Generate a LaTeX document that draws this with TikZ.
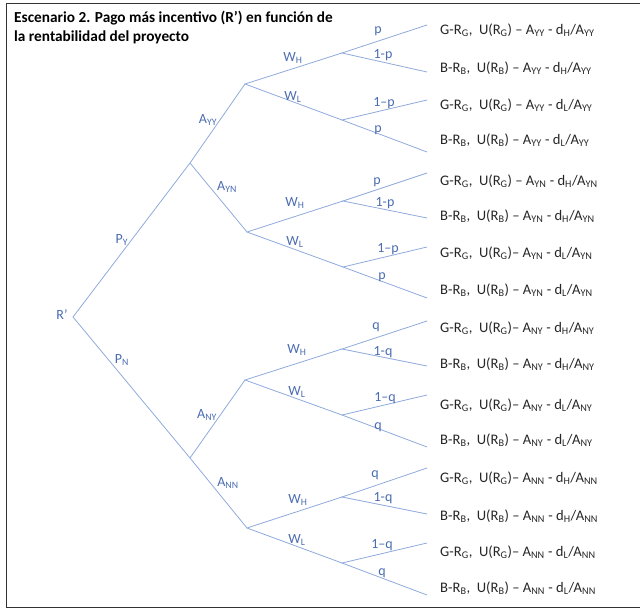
\documentclass[tikz,border=0pt]{standalone}
\usepackage{fontspec}
\setmainfont{Carlito}
\definecolor{lineblue}{HTML}{8FAADC}
\definecolor{labblue}{HTML}{4A6CB0}
\definecolor{leaftxt}{HTML}{262626}
\newcommand\sbs[1]{\textsubscript{#1}}
\begin{document}
\begin{tikzpicture}[x=1pt,y=-1pt,
  br/.style={draw=lineblue, line width=0.8pt},
  lab/.style={text=labblue, font=\fontsize{14}{16}\selectfont, inner sep=0pt},
  leaf/.style={anchor=west, text=leaftxt, font=\fontsize{14.6}{17}\selectfont, inner sep=0pt},
  frame/.style={draw=black!80, line width=1pt}]
\useasboundingbox (0,0) rectangle (640,610);
\draw[frame] (6.5,4) rectangle (645,607.5);
% title
\node[anchor=north west, align=left, inner sep=0pt, font=\bfseries\fontsize{15.3}{18.5}\selectfont]
  (title) at (14,11) {Escenario 2. Pago más incentivo (R’) en función de\\la rentabilidad del proyecto};
% tree nodes
\coordinate (r) at (73,317);
\coordinate (ay) at (190,163);
\coordinate (an) at (190,458);
\coordinate (ayy) at (245,84);
\coordinate (ayn) at (247,232);
\coordinate (any) at (245,380);
\coordinate (ann) at (247,528);
\coordinate (w1) at (342,53);
\coordinate (w2) at (342,120);
\coordinate (w3) at (343,201);
\coordinate (w4) at (343,267);
\coordinate (w5) at (342,349);
\coordinate (w6) at (342,415);
\coordinate (w7) at (342,497);
\coordinate (w8) at (342,563);
\foreach \n/\y in {1/25,2/72,3/100,4/152,5/173,6/218,7/247,8/298,9/321,10/366,11/395,12/447,13/468,14/514,15/543,16/595}
  \coordinate (e\n) at (427,\y);
% branches
\draw[br] (ay) -- (r) -- (an);
\draw[br] (ayy) -- (ay) -- (ayn);
\draw[br] (any) -- (an) -- (ann);
\draw[br] (w1) -- (ayy) -- (w2);
\draw[br] (w3) -- (ayn) -- (w4);
\draw[br] (w5) -- (any) -- (w6);
\draw[br] (w7) -- (ann) -- (w8);
\draw[br] (e1) -- (w1) -- (e2);
\draw[br] (e3) -- (w2) -- (e4);
\draw[br] (e5) -- (w3) -- (e6);
\draw[br] (e7) -- (w4) -- (e8);
\draw[br] (e9) -- (w5) -- (e10);
\draw[br] (e11) -- (w6) -- (e12);
\draw[br] (e13) -- (w7) -- (e14);
\draw[br] (e15) -- (w8) -- (e16);
% branch labels
\node[lab] (lr) at (62,315) {R’};
\node[lab] (lpy) at (122,240) {P\sbs{Y}};
\node[lab] (lpn) at (122,360) {P\sbs{N}};
\node[lab] (layy) at (208,120) {A\sbs{YY}};
\node[lab] (layn) at (227,187) {A\sbs{YN}};
\node[lab] (lany) at (207,415) {A\sbs{NY}};
\node[lab] (lann) at (228,483) {A\sbs{NN}};
\node[lab] (lw1) at (293,58) {W\sbs{H}};
\node[lab] (lw2) at (293,97) {W\sbs{L}};
\node[lab] (lw3) at (295,203) {W\sbs{H}};
\node[lab] (lw4) at (295,242) {W\sbs{L}};
\node[lab] (lw5) at (297,350) {W\sbs{H}};
\node[lab] (lw6) at (297,392) {W\sbs{L}};
\node[lab] (lw7) at (298,500) {W\sbs{H}};
\node[lab] (lw8) at (297,540) {W\sbs{L}};
\node[lab] (p1) at (378,31) {p};
\node[lab] (p2) at (383,55) {1-p};
\node[lab] (p3) at (384,103) {1–p};
\node[lab] (p4) at (378,130) {p};
\node[lab] (p5) at (377,182) {p};
\node[lab] (p6) at (385,203) {1-p};
\node[lab] (p7) at (388,249) {1–p};
\node[lab] (p8) at (382,277) {p};
\node[lab] (p9) at (376,327) {q};
\node[lab] (p10) at (383,352) {1-q};
\node[lab] (p11) at (385,398) {1–q};
\node[lab] (p12) at (378,427) {q};
\node[lab] (p13) at (375,475) {q};
\node[lab] (p14) at (383,498) {1-q};
\node[lab] (p15) at (382,545) {1–q};
\node[lab] (p16) at (382,573) {q};
% leaves
\node[leaf] (t1) at (440,30) {G-R\sbs{G},\ \ U(R\sbs{G}) – A\sbs{YY} - d\sbs{H}/A\sbs{YY}};
\node[leaf] (t2) at (440,68) {B-R\sbs{B},\ \ U(R\sbs{B}) – A\sbs{YY} - d\sbs{H}/A\sbs{YY}};
\node[leaf] (t3) at (440,105) {G-R\sbs{G},\ \ U(R\sbs{G}) – A\sbs{YY} - d\sbs{L}/A\sbs{YY}};
\node[leaf] (t4) at (440,140) {B-R\sbs{B},\ \ U(R\sbs{B}) – A\sbs{YY} - d\sbs{L}/A\sbs{YY}};
\node[leaf] (t5) at (440,181) {G-R\sbs{G},\ \ U(R\sbs{G}) – A\sbs{YN} - d\sbs{H}/A\sbs{YN}};
\node[leaf] (t6) at (440,216) {B-R\sbs{B},\ \ U(R\sbs{B}) – A\sbs{YN} - d\sbs{H}/A\sbs{YN}};
\node[leaf] (t7) at (440,253) {G-R\sbs{G},\ \ U(R\sbs{G})– A\sbs{YN} - d\sbs{L}/A\sbs{YN}};
\node[leaf] (t8) at (440,290) {B-R\sbs{B},\ \ U(R\sbs{B}) – A\sbs{YN} - d\sbs{L}/A\sbs{YN}};
\node[leaf] (t9) at (440,328) {G-R\sbs{G},\ \ U(R\sbs{G})– A\sbs{NY} - d\sbs{H}/A\sbs{NY}};
\node[leaf] (t10) at (440,364) {B-R\sbs{B},\ \ U(R\sbs{B}) – A\sbs{NY} - d\sbs{H}/A\sbs{NY}};
\node[leaf] (t11) at (440,405) {G-R\sbs{G},\ \ U(R\sbs{G})– A\sbs{NY} - d\sbs{L}/A\sbs{NY}};
\node[leaf] (t12) at (440,440) {B-R\sbs{B},\ \ U(R\sbs{B}) – A\sbs{NY} - d\sbs{L}/A\sbs{NY}};
\node[leaf] (t13) at (440,478) {G-R\sbs{G},\ \ U(R\sbs{G})– A\sbs{NN} - d\sbs{H}/A\sbs{NN}};
\node[leaf] (t14) at (440,516) {B-R\sbs{B},\ \ U(R\sbs{B}) – A\sbs{NN} - d\sbs{H}/A\sbs{NN}};
\node[leaf] (t15) at (440,552) {G-R\sbs{G},\ \ U(R\sbs{G})– A\sbs{NN} - d\sbs{L}/A\sbs{NN}};
\node[leaf] (t16) at (440,588) {B-R\sbs{B},\ \ U(R\sbs{B}) – A\sbs{NN} - d\sbs{L}/A\sbs{NN}};
\end{tikzpicture}
\end{document}
